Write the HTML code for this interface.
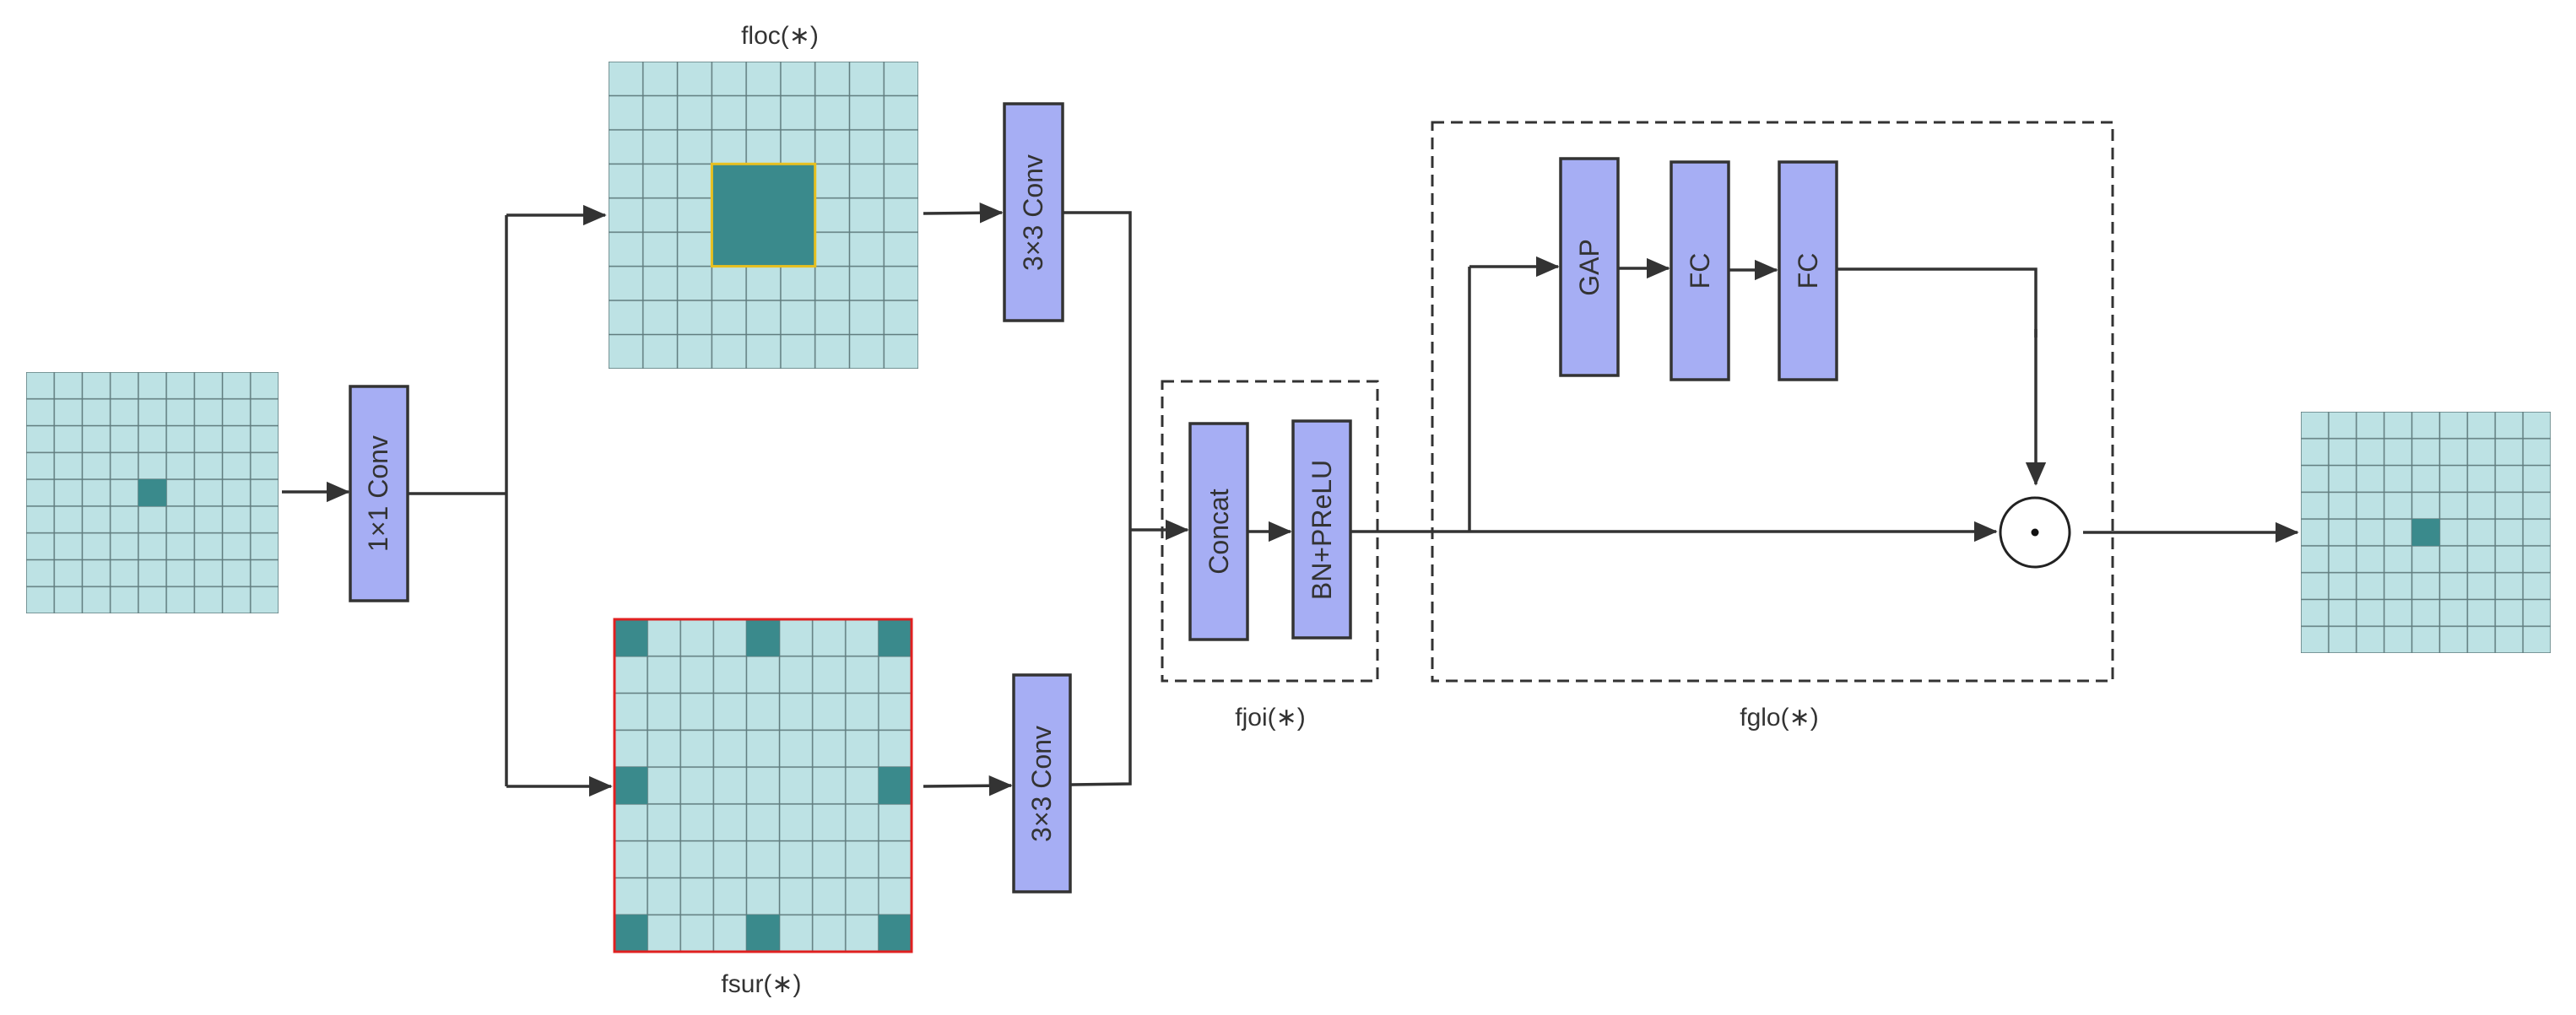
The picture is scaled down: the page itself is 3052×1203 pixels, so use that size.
<!DOCTYPE html>
<html><head><meta charset="utf-8"><style>
html,body{margin:0;padding:0;background:#fff;}
svg{display:block;}
text{font-family:"Liberation Sans",sans-serif;fill:#333;}
</style></head><body>
<svg width="3052" height="1203" viewBox="0 0 3052 1203" xmlns="http://www.w3.org/2000/svg">
<defs>
<pattern id="g1" x="31" y="441" width="33.22" height="31.78" patternUnits="userSpaceOnUse"><rect width="33.22" height="31.78" fill="#bde2e4" stroke="#607c7e" stroke-width="1.5"/></pattern>
<pattern id="g2" x="721" y="73" width="40.78" height="40.44" patternUnits="userSpaceOnUse"><rect width="40.78" height="40.44" fill="#bde2e4" stroke="#607c7e" stroke-width="1.5"/></pattern>
<pattern id="g3" x="728" y="734" width="39.11" height="43.78" patternUnits="userSpaceOnUse"><rect width="39.11" height="43.78" fill="#bde2e4" stroke="#607c7e" stroke-width="1.5"/></pattern>
<pattern id="g4" x="2726" y="488" width="32.89" height="31.78" patternUnits="userSpaceOnUse"><rect width="32.89" height="31.78" fill="#bde2e4" stroke="#607c7e" stroke-width="1.5"/></pattern>
<marker id="ar" markerWidth="8" markerHeight="8" refX="7.5" refY="4" orient="auto" markerUnits="strokeWidth"><path d="M0,0.5 L8,4 L0,7.5 z" fill="#333"/></marker>
</defs>

<!-- input grid -->
<rect x="31" y="441" width="299" height="286" fill="url(#g1)"/>
<rect x="163.9" y="568.1" width="33.2" height="31.8" fill="#3a8a8c"/>

<!-- floc grid -->
<rect x="721" y="73" width="367" height="364" fill="url(#g2)"/>
<rect x="843.4" y="194.3" width="122.3" height="121.3" fill="#3a8a8c" stroke="#e8c020" stroke-width="3"/>
<text x="924" y="52" font-size="30" text-anchor="middle">floc(∗)</text>

<!-- fsur grid -->
<rect x="728" y="734" width="352" height="394" fill="url(#g3)"/>
<g fill="#3a8a8c">
<rect x="728" y="734" width="39.1" height="43.8"/>
<rect x="884.4" y="734" width="39.1" height="43.8"/>
<rect x="1040.9" y="734" width="39.1" height="43.8"/>
<rect x="728" y="909.1" width="39.1" height="43.8"/>
<rect x="1040.9" y="909.1" width="39.1" height="43.8"/>
<rect x="728" y="1084.2" width="39.1" height="43.8"/>
<rect x="884.4" y="1084.2" width="39.1" height="43.8"/>
<rect x="1040.9" y="1084.2" width="39.1" height="43.8"/>
</g>
<rect x="728" y="734" width="352" height="394" fill="none" stroke="#e02020" stroke-width="3"/>
<text x="902" y="1176" font-size="30" text-anchor="middle">fsur(∗)</text>

<!-- output grid -->
<rect x="2726" y="488" width="296" height="286" fill="url(#g4)"/>
<rect x="2857.6" y="615.1" width="32.9" height="31.8" fill="#3a8a8c"/>

<!-- boxes -->
<g fill="#a6aef4" stroke="#333" stroke-width="3.5">
<rect x="415" y="458" width="68" height="254"/>
<rect x="1190" y="123" width="69" height="257"/>
<rect x="1201" y="800" width="67" height="257"/>
<rect x="1410" y="502" width="68" height="256"/>
<rect x="1532" y="499" width="68" height="257"/>
<rect x="1849" y="188" width="68" height="257"/>
<rect x="1980" y="192" width="68" height="258"/>
<rect x="2108" y="192" width="68" height="258"/>
</g>
<g font-size="32" text-anchor="middle">
<text transform="translate(459,585) rotate(-90)">1×1 Conv</text>
<text transform="translate(1235,252) rotate(-90)">3×3 Conv</text>
<text transform="translate(1245,929) rotate(-90)">3×3 Conv</text>
<text transform="translate(1455,630) rotate(-90)">Concat</text>
<text transform="translate(1577,628) rotate(-90)">BN+PReLU</text>
<text transform="translate(1894,317) rotate(-90)">GAP</text>
<text transform="translate(2025,321) rotate(-90)">FC</text>
<text transform="translate(2153,321) rotate(-90)">FC</text>
</g>

<!-- dashed boxes -->
<rect x="1377" y="452" width="255" height="355" fill="none" stroke="#333" stroke-width="3" stroke-dasharray="14,8"/>
<rect x="1697" y="145" width="806" height="662" fill="none" stroke="#333" stroke-width="3" stroke-dasharray="14,8"/>
<text x="1505" y="860" font-size="30" text-anchor="middle">fjoi(∗)</text>
<text x="2108" y="860" font-size="30" text-anchor="middle">fglo(∗)</text>

<!-- connectors -->
<g stroke="#333" stroke-width="3.5" fill="none">
<line x1="334" y1="583" x2="413" y2="583" marker-end="url(#ar)"/>
<polyline points="483,585 600,585"/>
<polyline points="600,255 600,932"/>
<line x1="600" y1="255" x2="717" y2="255" marker-end="url(#ar)"/>
<line x1="600" y1="932" x2="724" y2="932" marker-end="url(#ar)"/>
<line x1="1094" y1="253" x2="1187" y2="252" marker-end="url(#ar)"/>
<line x1="1094" y1="932" x2="1198" y2="931" marker-end="url(#ar)"/>
<polyline points="1259,252 1339,252 1339,929 1268,930"/>
<line x1="1339" y1="628" x2="1407" y2="628" marker-end="url(#ar)"/>
<line x1="1478" y1="630" x2="1529" y2="630" marker-end="url(#ar)"/>
<line x1="1600" y1="630" x2="2365" y2="630" marker-end="url(#ar)"/>
<polyline points="1741,630 1741,316"/>
<line x1="1741" y1="316" x2="1846" y2="316" marker-end="url(#ar)"/>
<line x1="1917" y1="318" x2="1977" y2="318" marker-end="url(#ar)"/>
<line x1="2048" y1="320" x2="2105" y2="320" marker-end="url(#ar)"/>
<polyline points="2176,319 2412,319 2412,400"/>
<line x1="2412" y1="390" x2="2412" y2="574" marker-end="url(#ar)"/>
<line x1="2468" y1="631" x2="2722" y2="631" marker-end="url(#ar)"/>
</g>
<ellipse cx="2411" cy="631" rx="41" ry="41" fill="#fff" stroke="#222" stroke-width="3"/>
<circle cx="2411" cy="631" r="4.5" fill="#111"/>
</svg>
</body></html>
